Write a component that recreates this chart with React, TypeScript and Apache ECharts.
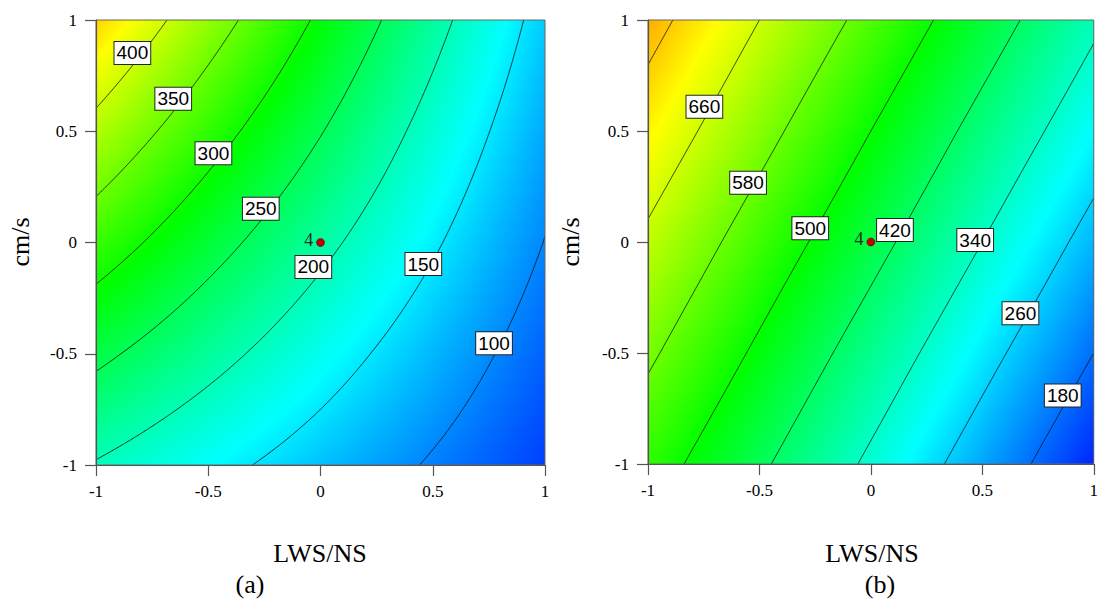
import React, { useEffect, useRef } from "react";
import * as echarts from "echarts";

// ---- data ----
const axisTicks = [-1, -0.5, 0, 0.5, 1];
const gridU = [-1, -0.5, 0, 0.5, 1]; // LWS/NS (coded)
const gridV = [-1, -0.5, 0, 0.5, 1]; // cm/s (coded)

// response values at grid nodes, rows = cm/s from -1 to 1, cols = LWS/NS from -1 to 1
const surfaceA = [
  [197, 163, 130, 96, 62],
  [260, 215, 170, 125, 80],
  [324, 267, 211, 155, 99],
  [387, 319, 252, 184, 117],
  [450, 371, 293, 214, 135],
];
const surfaceB = [
  [533, 431, 328, 225, 122],
  [591, 488, 385, 282, 180],
  [648, 545, 443, 340, 237],
  [706, 603, 500, 397, 295],
  [763, 660, 558, 455, 352],
];

const levelsA = [100, 150, 200, 250, 300, 350, 400];
const levelsB = [180, 260, 340, 420, 500, 580, 660, 740];

// contour labels: [LWS/NS, cm/s, value]
const labelsA = [
  [-0.838, 0.852, 400],
  [-0.656, 0.646, 350],
  [-0.477, 0.401, 300],
  [-0.266, 0.152, 250],
  [-0.032, -0.11, 200],
  [0.458, -0.097, 150],
  [0.773, -0.453, 100],
];
const labelsB = [
  [-0.747, 0.609, 660],
  [-0.551, 0.267, 580],
  [-0.272, 0.062, 500],
  [0.108, 0.054, 420],
  [0.468, 0.009, 340],
  [0.671, -0.321, 260],
  [0.861, -0.692, 180],
];

const designPoints = [[0, 0, 4]];

// colour scale ends (blue .. red)
const colorRangeA = [30, 560];
const colorRangeB = [95, 900];

const rampColors = [
  [0, 0, 255],
  [0, 255, 255],
  [0, 255, 0],
  [255, 255, 0],
  [255, 0, 0],
];

// ---- helpers ----
function colorAt(val: number, range: number[]) {
  let t = (val - range[0]) / (range[1] - range[0]);
  t = Math.max(0, Math.min(1, t));
  const s = t * (rampColors.length - 1);
  const i = Math.min(rampColors.length - 2, Math.floor(s));
  const f = s - i;
  const a = rampColors[i];
  const b = rampColors[i + 1];
  const c = a.map((x, k) => Math.round(x + (b[k] - x) * f));
  return `rgb(${c[0]},${c[1]},${c[2]})`;
}

function rowStops(fl: number, fr: number, range: number[]) {
  const stops: { offset: number; color: string }[] = [
    { offset: 0, color: colorAt(fl, range) },
  ];
  if (fr !== fl) {
    const n = rampColors.length - 1;
    for (let k = 0; k <= n; k++) {
      const b = range[0] + ((range[1] - range[0]) * k) / n;
      const o = (b - fl) / (fr - fl);
      if (o > 0 && o < 1) stops.push({ offset: o, color: colorAt(b, range) });
    }
  }
  stops.push({ offset: 1, color: colorAt(fr, range) });
  stops.sort((a, b) => a.offset - b.offset);
  return stops;
}

function cellData(S: number[][]) {
  const out: number[][] = [];
  for (let i = 0; i < gridV.length - 1; i++)
    for (let j = 0; j < gridU.length - 1; j++)
      out.push([
        gridU[j], gridV[i], gridU[j + 1], gridV[i + 1],
        S[i][j], S[i][j + 1], S[i + 1][j], S[i + 1][j + 1],
      ]);
  return out;
}

const makeFieldRender = (range: number[]) => (params: any, api: any) => {
  const u0 = api.value(0), v0 = api.value(1), u1 = api.value(2), v1 = api.value(3);
  const f00 = api.value(4), f10 = api.value(5), f01 = api.value(6), f11 = api.value(7);
  const R = 40;
  const children: any[] = [];
  for (let r = 0; r < R; r++) {
    const va = v0 + ((v1 - v0) * r) / R;
    const vb = v0 + ((v1 - v0) * (r + 1)) / R;
    const t = (r + 0.5) / R;
    const fl = f00 + (f01 - f00) * t;
    const fr = f10 + (f11 - f10) * t;
    const pTL = api.coord([u0, vb]);
    const pBR = api.coord([u1, va]);
    children.push({
      type: "rect",
      silent: true,
      shape: {
        x: pTL[0],
        y: pTL[1],
        width: pBR[0] - pTL[0] + 1,
        height: pBR[1] - pTL[1] + 1,
      },
      style: {
        fill: {
          type: "linear",
          x: 0, y: 0, x2: 1, y2: 0,
          colorStops: rowStops(fl, fr, range),
        },
      },
    });
  }
  return { type: "group", children };
};

const makeContourRender = (S: number[][]) => (params: any, api: any) => {
  const c = api.value(2);
  const K = 600;
  let d = "";
  let pen = false;
  for (let k = 0; k <= K; k++) {
    const v = -1 + (2 * k) / K;
    let i = 0;
    while (i < gridV.length - 2 && v > gridV[i + 1]) i++;
    const t = (v - gridV[i]) / (gridV[i + 1] - gridV[i]);
    let u: number | null = null;
    for (let j = 0; j < gridU.length - 1; j++) {
      const fl = S[i][j] + (S[i + 1][j] - S[i][j]) * t;
      const fr = S[i][j + 1] + (S[i + 1][j + 1] - S[i][j + 1]) * t;
      if (fl !== fr && (c - fl) * (c - fr) <= 0) {
        u = gridU[j] + ((c - fl) / (fr - fl)) * (gridU[j + 1] - gridU[j]);
        break;
      }
    }
    if (u === null) {
      pen = false;
      continue;
    }
    const p = api.coord([u, v]);
    d += (pen ? "L" : "M") + p[0].toFixed(2) + " " + p[1].toFixed(2);
    pen = true;
  }
  return {
    type: "path",
    silent: true,
    shape: { pathData: d },
    style: { stroke: "#111", lineWidth: 0.85, fill: "none" },
  };
};

const serif = '"Liberation Serif", "Times New Roman", serif';
const sans = '"Liberation Sans", Arial, sans-serif';

function axisCommon(gridIndex: number) {
  return {
    type: "value",
    gridIndex,
    min: -1,
    max: 1,
    interval: 0.5,
    z: 10,
    splitLine: { show: false },
    axisLine: { show: true, onZero: false, lineStyle: { color: "#555", width: 1.2 } },
    axisTick: { show: true, inside: false, length: 11, lineStyle: { color: "#555", width: 1.2 } },
  };
}

function seriesFor(gi: number, S: number[][], levels: number[], labels: number[][], range: number[]) {
  return [
    {
      type: "custom",
      xAxisIndex: gi,
      yAxisIndex: gi,
      clip: true,
      z: 1,
      silent: true,
      renderItem: makeFieldRender(range),
      encode: { x: [0, 2], y: [1, 3] },
      data: cellData(S),
    },
    {
      type: "custom",
      xAxisIndex: gi,
      yAxisIndex: gi,
      clip: true,
      z: 2,
      silent: true,
      renderItem: makeContourRender(S),
      encode: { x: 0, y: 1 },
      data: levels.map((l) => [0, 0, l]),
    },
    {
      type: "scatter",
      xAxisIndex: gi,
      yAxisIndex: gi,
      z: 3,
      silent: true,
      symbolSize: 1,
      itemStyle: { color: "rgba(0,0,0,0)", opacity: 1 },
      label: {
        show: true,
        position: "inside",
        formatter: (p: any) => String(p.value[2]),
        fontFamily: sans,
        fontSize: 19,
        lineHeight: 19,
        color: "#000",
        opacity: 1,
        backgroundColor: "#ffffff",
        borderColor: "#222",
        borderWidth: 1,
        padding: [2, 2, 1, 2],
      },
      data: labels,
    },
    {
      type: "scatter",
      xAxisIndex: gi,
      yAxisIndex: gi,
      z: 4,
      silent: true,
      symbolSize: 8,
      itemStyle: { color: "#c00000", borderColor: "#500", borderWidth: 0.6, opacity: 1 },
      label: {
        show: true,
        position: "left",
        distance: 3,
        offset: [0, -3],
        formatter: (p: any) => String(p.value[2]),
        fontFamily: serif,
        fontSize: 18,
        color: "#1f2f1f",
      },
      data: designPoints,
    },
  ];
}

export default function App() {
  const ref = useRef<HTMLDivElement>(null);
  useEffect(() => {
    if (!ref.current) return;
    const chart = echarts.init(ref.current, undefined, { renderer: "svg" });
    const text = (t: string, x: number, y: number, size: number, rot = 0) => ({
      type: "text",
      x,
      y,
      rotation: rot,
      style: {
        text: t,
        font: `${size}px ${serif}`,
        fill: "#000",
        textAlign: "center",
        textVerticalAlign: "middle",
      },
    });
    chart.setOption({
      animation: false,
      backgroundColor: "#fff",
      grid: [
        { left: 96, top: 20, width: 449, height: 445, show: true, z: 10, borderColor: "#666", borderWidth: 1, backgroundColor: "transparent" },
        { left: 648, top: 20, width: 450, height: 444, show: true, z: 10, borderColor: "#666", borderWidth: 1, backgroundColor: "transparent" },
      ],
      xAxis: [0, 1].map((gi) => ({
        ...axisCommon(gi),
        axisLabel: { fontFamily: serif, fontSize: 17, color: "#000", margin: 18 },
      })),
      yAxis: [0, 1].map((gi) => ({
        ...axisCommon(gi),
        axisLabel: { fontFamily: serif, fontSize: 17, color: "#000", margin: 19 },
      })),
      series: [
        ...seriesFor(0, surfaceA, levelsA, labelsA, colorRangeA),
        ...seriesFor(1, surfaceB, levelsB, labelsB, colorRangeB),
      ],
      graphic: [
        text("cm/s", 20, 242, 26, Math.PI / 2),
        text("cm/s", 570, 242, 26, Math.PI / 2),
        text("LWS/NS", 320, 553, 26),
        text("LWS/NS", 872, 553, 26),
        text("(a)", 250, 584, 26),
        text("(b)", 880, 584, 26),
      ],
    });
    return () => chart.dispose();
  }, []);
  return (
    <div
      ref={ref}
      style={{ position: "absolute", left: 0, top: 0, width: 1101, height: 602 }}
    />
  );
}
